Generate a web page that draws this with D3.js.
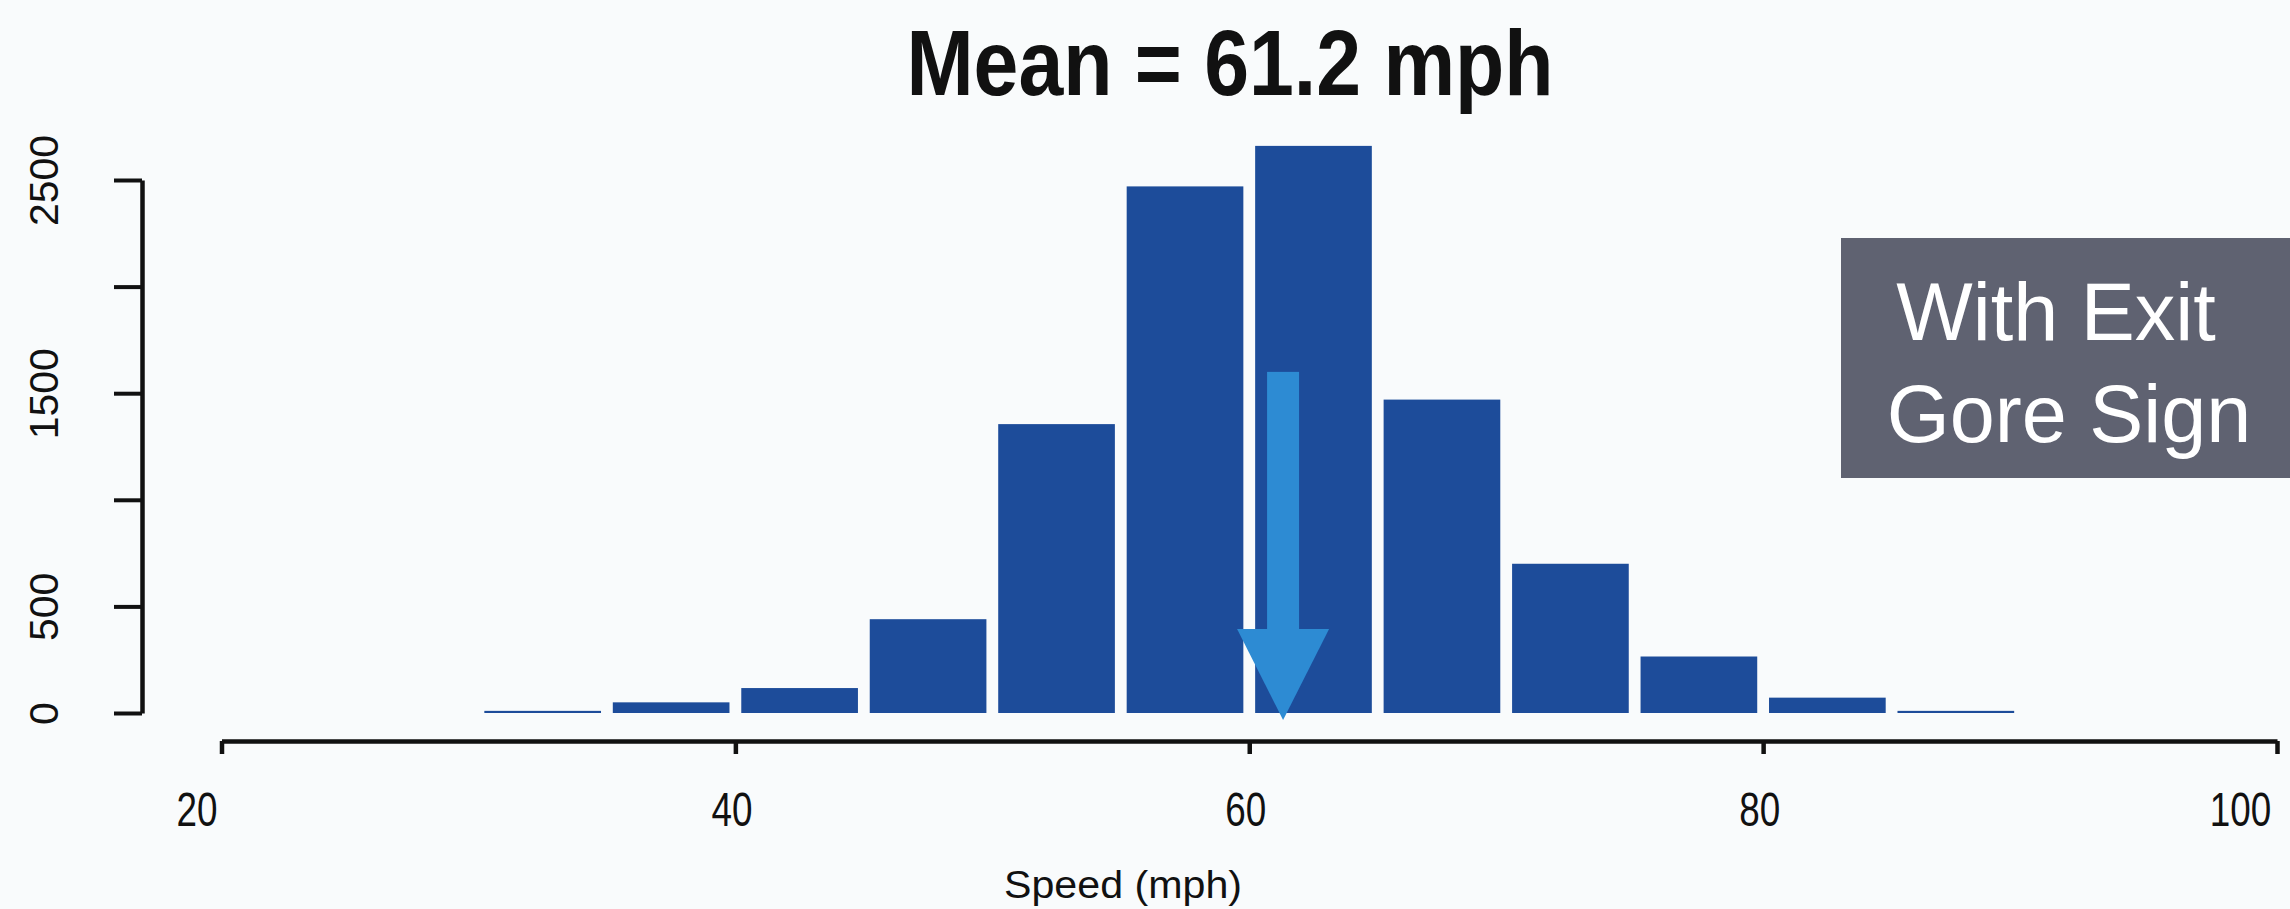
<!DOCTYPE html>
<html>
<head>
    <meta charset="utf-8">
    <title>Speed histogram</title>
    <script type="text/javascript" src="https://d3js.org/d3.v7.min.js"></script>
    <style>
        body { margin: 0; background: #f9fbfc; }
        svg { display: block; }
        text { font-family: "Liberation Sans", Arial, sans-serif; fill: #111; }
    </style>
</head>
<body>
    <svg width="2290" height="909"></svg>

    <script>
        // histogram bins (mph) and counts
        var binStart = [30, 35, 40, 45, 50, 55, 60, 65, 70, 75, 80, 85];
        var binWidth = 5;
        var counts = [10, 50, 117, 440, 1355, 2470, 2660, 1470, 700, 265, 72, 10];
        var meanSpeed = 61.2;
        var arrowTop = 1600;

        var xTicks = [20, 40, 60, 80, 100];
        var yTicks = [0, 500, 1000, 1500, 2000, 2500];
        var yLabels = [0, 500, 1500, 2500];

        var titleText = "Mean = 61.2 mph";
        var xTitle = "Speed (mph)";
        var boxLines = ["With Exit", "Gore Sign"];

        var svg = d3.select("svg");

        var x = d3.scaleLinear().domain([20, 100]).range([221.5, 2277]);
        var y = d3.scaleLinear().domain([0, 2500]).range([713, 180]);

        //bars, with a white gap between them
        var gap = 5.9;
        svg.append("g")
            .selectAll("rect")
            .data(binStart)
            .enter()
            .append("rect")
            .attr("x", function (d) { return x(d) + gap; })
            .attr("width", function (d) { return x(d + binWidth) - x(d) - 2 * gap; })
            .attr("y", function (d, i) { return y(counts[i]); })
            .attr("height", function (d, i) { return Math.max(2, y(0) - y(counts[i])); })
            .attr("fill", "#1d4c9a");

        //arrow pointing at the mean
        var ax = x(meanSpeed) + 3;
        var headY = 629;
        var arrow = svg.append("g").attr("fill", "#2d8bd3");
        arrow.append("rect")
            .attr("x", ax - 16)
            .attr("y", y(arrowTop))
            .attr("width", 32)
            .attr("height", headY - y(arrowTop));
        arrow.append("path")
            .attr("d", "M" + (ax - 46) + "," + headY + "L" + (ax + 46) + "," + headY + "L" + ax + "," + (y(0) + 7) + "Z");

        //x axis
        var xAxis = svg.append("g")
            .attr("transform", "translate(0,741)")
            .call(d3.axisBottom(x).tickValues(xTicks).tickSize(13).tickSizeOuter(0));
        xAxis.select(".domain").attr("stroke", "#111").attr("stroke-width", 4.5);
        xAxis.selectAll(".tick line").attr("stroke", "#111").attr("stroke-width", 4.5);
        // labels at the ends sit a bit to the left, like in the scan
        xAxis.selectAll(".tick text")
            .attr("y", 85)
            .attr("dy", 0)
            .attr("dx", function (d) { return d == 20 ? -25 : (d == 100 ? -37 : -4); })
            .attr("textLength", function (d) { return String(d).length * 20.5; })
            .attr("lengthAdjust", "spacingAndGlyphs")
            .style("font-size", "48px")
            .style("font-family", "'Liberation Sans', Arial, sans-serif")
            .attr("fill", "#111");

        //y axis, R style with rotated labels and some skipped
        var yAxis = svg.append("g")
            .attr("transform", "translate(142,0)")
            .call(d3.axisLeft(y).tickValues(yTicks).tickSize(28).tickSizeOuter(0)
                .tickFormat(function (d) { return yLabels.indexOf(d) >= 0 ? d : ""; }));
        yAxis.select(".domain").attr("stroke", "#111").attr("stroke-width", 4.5);
        yAxis.selectAll(".tick line").attr("stroke", "#111").attr("stroke-width", 4);
        yAxis.selectAll(".tick text")
            .attr("x", 0)
            .attr("dy", 0)
            .attr("text-anchor", "middle")
            .attr("transform", "translate(-84,0) rotate(-90)")
            .style("font-size", "41px")
            .style("font-family", "'Liberation Sans', Arial, sans-serif")
            .attr("fill", "#111");

        //title
        svg.append("text")
            .attr("x", 1230)
            .attr("y", 95)
            .attr("text-anchor", "middle")
            .attr("textLength", 647)
            .attr("lengthAdjust", "spacingAndGlyphs")
            .style("font-size", "92px")
            .style("font-weight", "bold")
            .text(titleText);

        //x axis title
        svg.append("text")
            .attr("x", 1123)
            .attr("y", 898)
            .attr("text-anchor", "middle")
            .attr("textLength", 238)
            .attr("lengthAdjust", "spacingAndGlyphs")
            .style("font-size", "39px")
            .text(xTitle);

        //grey label box at the right edge
        svg.append("rect")
            .attr("x", 1841)
            .attr("y", 238)
            .attr("width", 460)
            .attr("height", 240)
            .attr("fill", "#5f6271");
        svg.append("g")
            .selectAll("text")
            .data(boxLines)
            .enter()
            .append("text")
            .attr("x", function (d, i) { return i == 0 ? 2056 : 2069; })
            .attr("y", function (d, i) { return 340 + i * 102; })
            .attr("text-anchor", "middle")
            .style("font-size", "81px")
            .style("fill", "#ffffff")
            .text(function (d) { return d; });
    </script>
</body>
</html>
